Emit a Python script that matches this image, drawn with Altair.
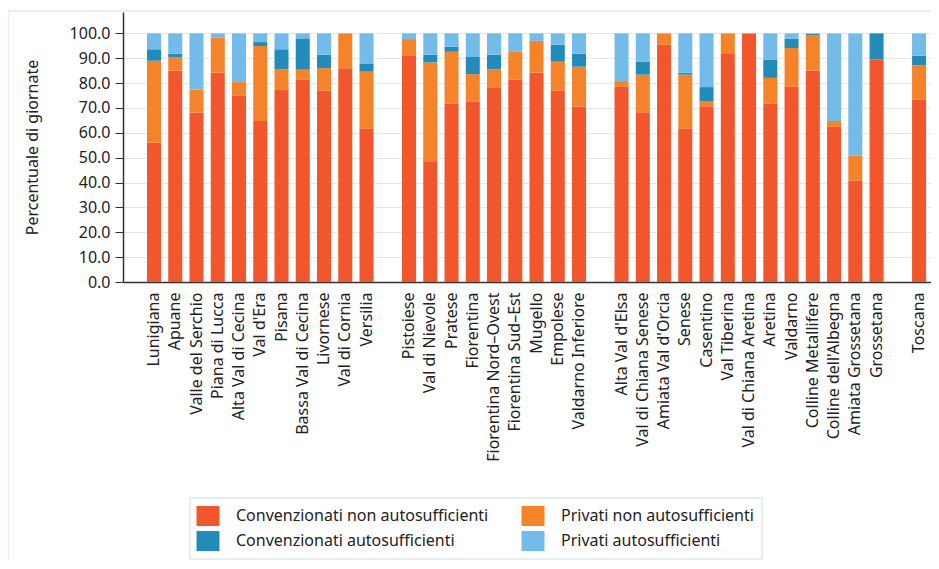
import altair as alt
import pandas as pd

# ---- data ----
group1 = ["Lunigiana", "Apuane", "Valle del Serchio", "Piana di Lucca", "Alta Val di Cecina",
          "Val d'Era", "Pisana", "Bassa Val di Cecina", "Livornese", "Val di Cornia", "Versilia"]
group2 = ["Pistoiese", "Val di Nievole", "Pratese", "Fiorentina", "Fiorentina Nord–Ovest",
          "Fiorentina Sud–Est", "Mugello", "Empolese", "Valdarno Inferiore"]
group3 = ["Alta Val d'Elsa", "Val di Chiana Senese", "Amiata Val d'Orcia", "Senese", "Casentino",
          "Val Tiberina", "Val di Chiana Aretina", "Aretina", "Valdarno", "Colline Metallifere",
          "Colline dell'Albegna", "Amiata Grossetana", "Grossetana"]
group4 = ["Toscana"]

conv_non_auto = [56.0, 85.0, 68.2, 84.2, 74.9, 64.8, 77.3, 81.3, 76.9, 86.0, 61.6,
                 90.9, 48.3, 71.7, 72.5, 78.0, 81.5, 84.2, 76.9, 70.6,
                 78.5, 68.3, 95.4, 61.6, 70.7, 91.7, 100.0, 71.7, 78.5, 85.0, 62.4, 40.7, 89.5,
                 73.4]
priv_non_auto = [33.0, 5.3, 9.2, 14.2, 5.5, 30.1, 8.3, 4.1, 9.1, 14.0, 23.0,
                 6.8, 40.0, 20.9, 11.1, 7.5, 11.3, 12.8, 11.7, 16.0,
                 2.3, 15.1, 4.6, 21.8, 2.1, 8.3, 0.0, 10.4, 15.6, 14.3, 2.4, 10.2, 0.0,
                 13.8]
conv_auto = [4.6, 1.5, 0.0, 0.0, 0.0, 1.6, 8.0, 12.6, 5.4, 0.0, 3.1,
             0.0, 3.1, 2.0, 6.9, 5.9, 0.0, 0.0, 6.8, 5.2,
             0.0, 5.1, 0.0, 0.8, 5.6, 0.0, 0.0, 7.4, 3.8, 0.5, 0.0, 0.0, 10.5,
             3.8]
priv_auto = [6.4, 8.2, 22.6, 1.6, 19.6, 3.5, 6.4, 2.0, 8.6, 0.0, 12.3,
             2.3, 8.6, 5.4, 9.5, 8.6, 7.2, 3.0, 4.6, 8.2,
             19.2, 11.5, 0.0, 15.8, 21.6, 0.0, 0.0, 10.5, 2.1, 0.2, 35.2, 49.1, 0.0,
             9.0]

series = ["Convenzionati non autosufficienti", "Privati non autosufficienti",
          "Convenzionati autosufficienti", "Privati autosufficienti"]
colors = ["#F2562C", "#F4832A", "#228BBA", "#73BBE8"]
y_ticks = [0, 10, 20, 30, 40, 50, 60, 70, 80, 90, 100]

# ---- table ----
cats = group1 + group2 + group3 + group4
domain_x = group1 + [" "] + group2 + ["  "] + group3 + ["   "] + group4
rows = []
for i, c in enumerate(cats):
    for k, vals in enumerate([conv_non_auto, priv_non_auto, conv_auto, priv_auto]):
        rows.append({"zona": c, "serie": series[k], "ord": k, "valore": vals[i]})
df = pd.DataFrame(rows)

# legend is filled column by column: reorder so rows read CNA | PNA, CA | PA
legend_domain = [series[0], series[2], series[1], series[3]]
legend_range = [colors[0], colors[2], colors[1], colors[3]]

W, H = 808, 270
FS = 16

bars = alt.Chart(df).mark_bar().encode(
    x=alt.X("zona:N",
            scale=alt.Scale(domain=domain_x, paddingInner=0.34, paddingOuter=0.68, align=0.83),
            axis=alt.Axis(title=None, labelAngle=-90, ticks=False, labelPadding=10,
                          labelFontSize=FS, labelColor="#222222", domainColor="#333333",
                          domainWidth=1.5, grid=False, labelLimit=400)),
    y=alt.Y("valore:Q", stack="zero",
            scale=alt.Scale(domain=[0, 108.6], nice=False),
            axis=alt.Axis(title="Percentuale di giornate", values=y_ticks, format=".1f",
                          labelFontSize=FS, labelColor="#222222", tickSize=8, labelPadding=5,
                          tickColor="#333333", domainColor="#333333", domainWidth=1.5,
                          gridColor="#e6e6e6", titleFontSize=FS, titleFontWeight="normal",
                          titleColor="#222222", titleX=-91, titleY=H / 2, titleAngle=-90,
                          titleAlign="center", titleBaseline="middle")),
    color=alt.Color("serie:N", scale=alt.Scale(domain=legend_domain, range=legend_range),
                    legend=alt.Legend(title=None, orient="none", legendX=67, legendY=486,
                                      columns=2, columnPadding=32, rowPadding=5,
                                      symbolType="M-1.15,-1H1.15V1H-1.15Z", symbolSize=400,
                                      symbolStrokeWidth=0, labelOffset=18, labelLimit=400,
                                      labelFontSize=FS, labelColor="#222222",
                                      strokeColor="#e4eeee", padding=8)),
    order=alt.Order("ord:Q"),
)

frame = alt.Chart(alt.Data(values=[{"a": 1}])).mark_rect(
    fill="transparent", stroke="#e6eff0", strokeWidth=2
).encode(
    x=alt.value(-115), x2=alt.value(W + 60), y=alt.value(-1), y2=alt.value(H + 400)
)

chart = alt.layer(frame, bars).properties(
    width=W, height=H,
    autosize=alt.AutoSizeParams(type="none"),
    padding={"left": 115, "top": 4, "right": 0, "bottom": 278},
).configure(font="Noto Sans").configure_view(stroke=None).configure_legend(strokeWidth=2)

chart.save("out.html", embed_options={"renderer": "svg", "actions": False})
